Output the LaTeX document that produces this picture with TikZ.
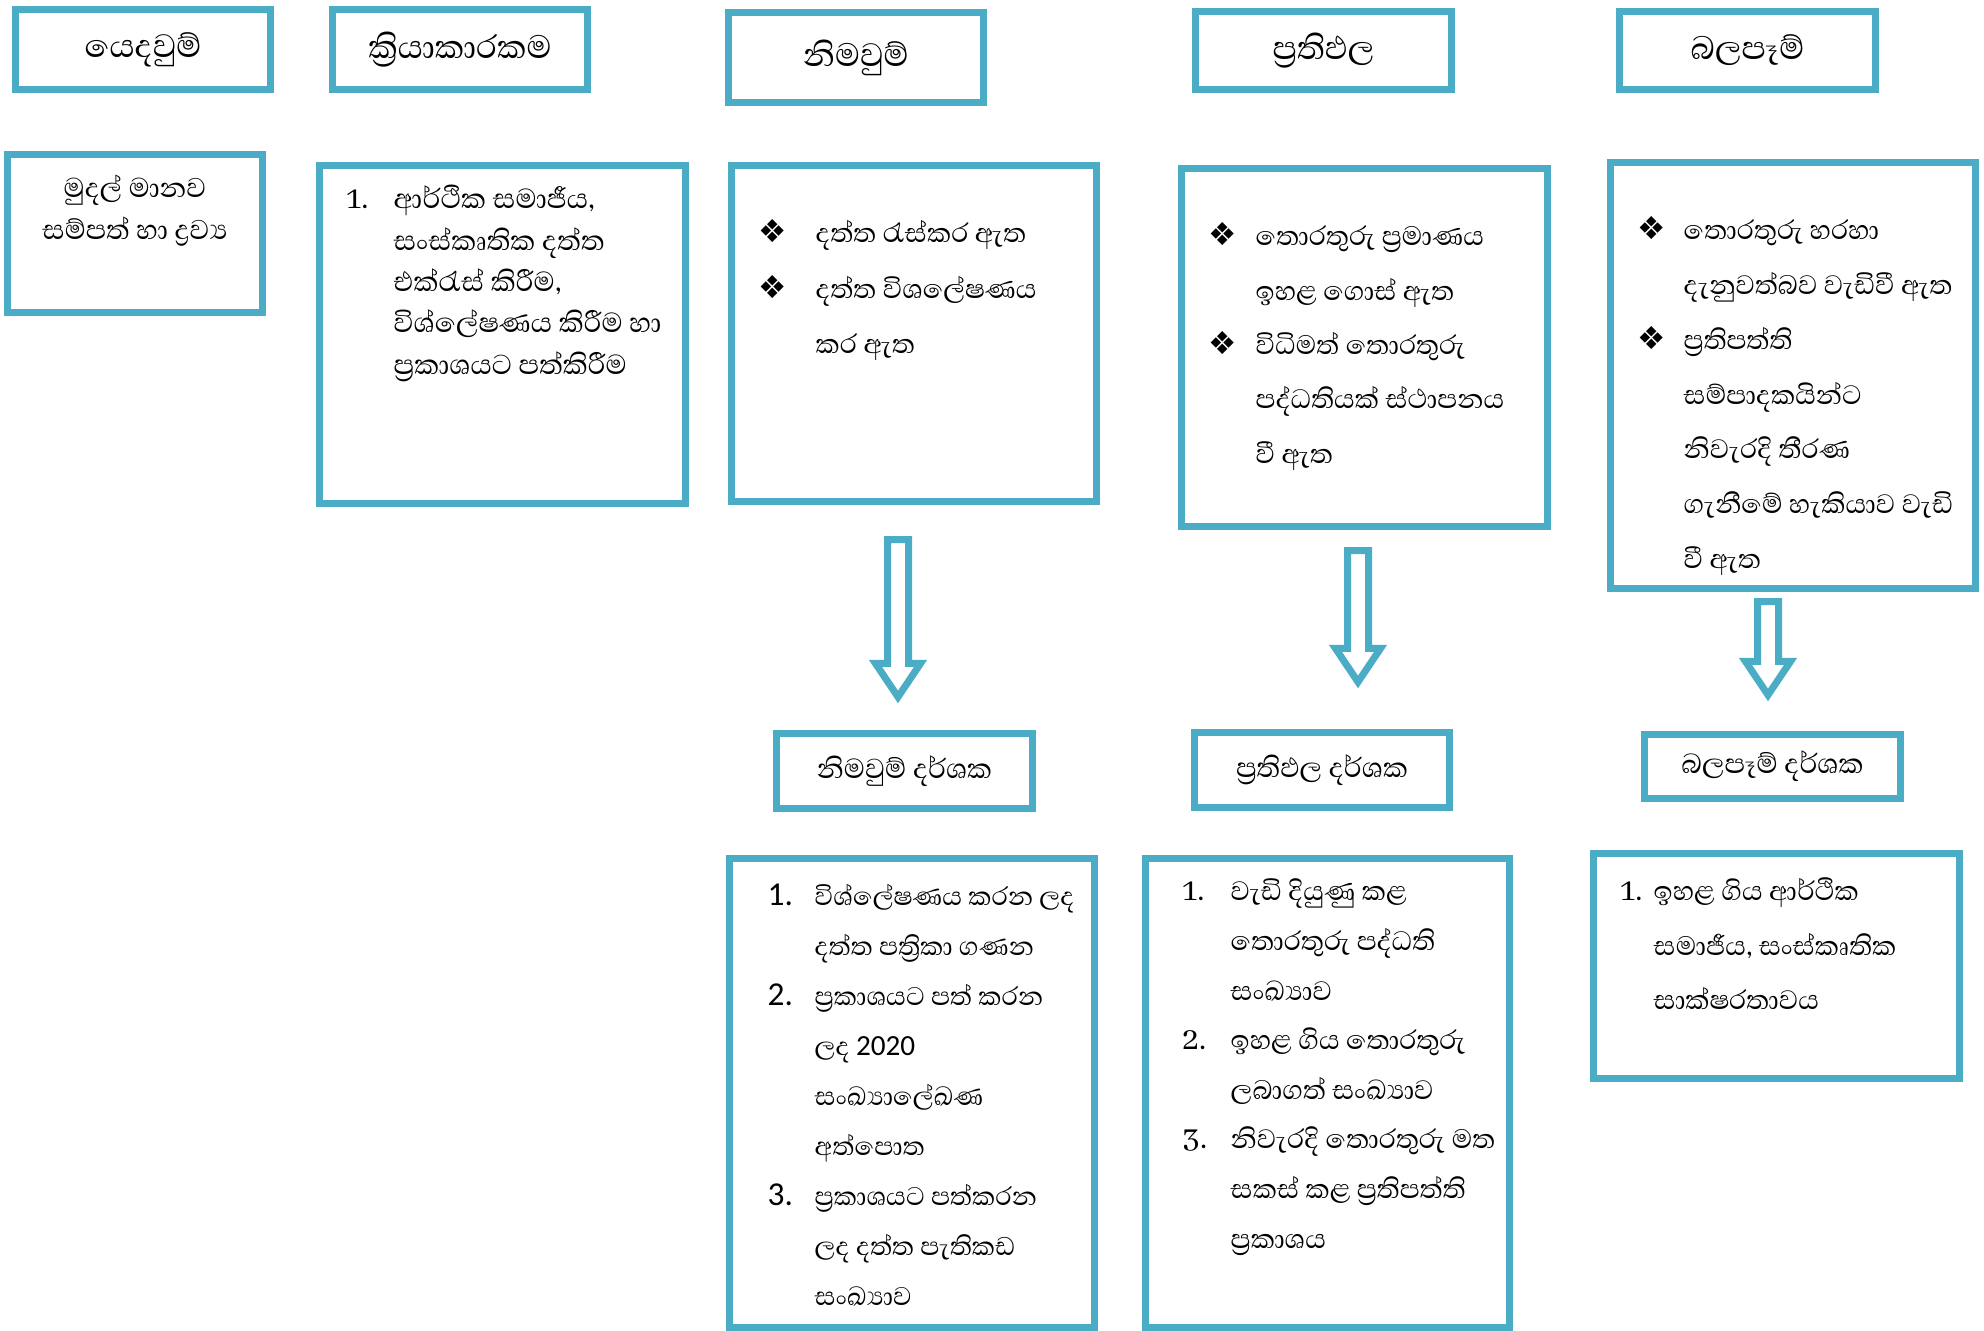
\documentclass[tikz,border=0pt]{standalone}
\usepackage{fontspec}
\setmainfont{Liberation Serif}
\newfontfamily\sinhala[Script=Sinhala]{Abhaya Libre}
\newfontfamily\calib{Carlito}
\newfontfamily\dvs{DejaVu Sans}
\usetikzlibrary{calc}
\definecolor{cblue}{RGB}{75,172,198}
\newcommand\bul[1]{\makebox[#1][l]{\dvs\fontsize{9}{9}\selectfont ❖}}
\newcommand\itemno[2]{\makebox[#1][l]{\fontsize{10.2}{10}\selectfont #2}}
\lineskiplimit=-30pt

\begin{document}
\begin{tikzpicture}[x=0.01cm,y=-0.01cm,
	hbox/.style={draw=cblue, line width=0.07cm, inner sep=0pt, minimum width=2.55cm, font=\sinhala\fontsize{11.8}{14}\selectfont},
	lbox/.style={draw=cblue, line width=0.07cm, inner sep=0pt},
	ltext/.style={anchor=base west, inner sep=0pt, font=\sinhala\fontsize{9.7}{#1}\selectfont},
	harrow/.style={draw=cblue, line width=0.07cm, fill=white, line join=miter}]
	\useasboundingbox (0,0) rectangle (1984,1331);
	% headers
	\node[hbox, minimum height=0.80cm] (in) at (143,49.5) {යෙදවුම්};
	\node[hbox, minimum height=0.80cm] (act) at (460,49.5) {ක්^^^^200dරියාකාරකම};
	\node[hbox, minimum height=0.90cm] (out) at (856,57.5) {නිමවුම්};
	\node[hbox, minimum height=0.78cm] (outc) at (1323.5,50.5) {ප්^^^^200dරතිඵල};
	\node[hbox, minimum height=0.78cm] (imp) at (1747.5,50.5) {බලපෑම්};
	% boxes
	\node[lbox, minimum width=2.55cm, minimum height=1.58cm] (inbox) at (135,233.5) {};
	\node[lbox, minimum width=3.66cm, minimum height=3.38cm] (actbox) at (502.5,334.5) {};
	\node[lbox, minimum width=3.65cm, minimum height=3.36cm] (outbox) at (914,333.5) {};
	\node[lbox, minimum width=3.66cm, minimum height=3.58cm] (outcbox) at (1364.5,347.5) {};
	\node[lbox, minimum width=3.65cm, minimum height=4.26cm] (impbox) at (1793,375.5) {};
	\node[align=center, inner sep=0pt, font=\sinhala\fontsize{9.9}{12}\selectfont] (intxt) at (135,211) {මුදල් මානව\\සම්පත් හා ද්^^^^200dරව්^^^^200dය};
	\node[ltext=11.75pt, font=\sinhala\fontsize{10}{11.75}\selectfont] (acttxt) at (346,209) {\parbox[t]{5cm}{\itemno{0.47cm}{1.}ආර්ථික සමාජීය,\\\hspace*{0.47cm}සංස්කෘතික දත්ත\\\hspace*{0.47cm}එක්රැස් කිරීම,\\\hspace*{0.47cm}විශ්ලේෂණය කිරීම හා\\\hspace*{0.47cm}ප්^^^^200dරකාශයට පත්කිරීම}};
	\node[ltext=15.65pt] (outtxt) at (758,243) {\parbox[t]{5cm}{\bul{0.57cm}දත්ත රැස්කර ඇත\\\bul{0.57cm}දත්ත විශලේෂණය\\\hspace*{0.57cm}කර ඇත}};
	\node[ltext=15.43pt] (outctxt) at (1208,246) {\parbox[t]{5cm}{\bul{0.47cm}තොරතුරු ප්^^^^200dරමාණය\\\hspace*{0.47cm}ඉහළ ගොස් ඇත\\\bul{0.47cm}විධිමත් තොරතුරු\\\hspace*{0.47cm}පද්ධතියක් ස්ථාපනය\\\hspace*{0.47cm}වී ඇත}};
	\node[ltext=15.55pt] (imptxt) at (1637,240) {\parbox[t]{5cm}{\bul{0.46cm}තොරතුරු හරහා\\\hspace*{0.46cm}දැනුවත්බව වැඩිවී ඇත\\\bul{0.46cm}ප්^^^^200dරතිපත්ති\\\hspace*{0.46cm}සම්පාදකයින්ට\\\hspace*{0.46cm}නිවැරදි තීරණ\\\hspace*{0.46cm}ගැනීමේ හැකියාව වැඩි\\\hspace*{0.46cm}වී ඇත}};
	% indicators
	\node[hbox, minimum height=0.75cm, font=\sinhala\fontsize{10}{12}\selectfont] (outind) at (904.5,771) {නිමවුම් දර්ශක};
	\node[hbox, minimum height=0.75cm, font=\sinhala\fontsize{10}{12}\selectfont] (outcind) at (1322,770) {ප්^^^^200dරතිඵල දර්ශක};
	\node[hbox, minimum height=0.64cm, font=\sinhala\fontsize{10}{12}\selectfont] (impind) at (1772.5,766.5) {බලපෑම් දර්ශක};
	\node[lbox, minimum width=3.65cm, minimum height=4.69cm] (outlist) at (912,1093) {};
	\node[lbox, minimum width=3.64cm, minimum height=4.69cm] (outclist) at (1327.5,1093) {};
	\node[lbox, minimum width=3.66cm, minimum height=2.25cm] (implist) at (1776.5,966) {};
	\node[ltext=14.2pt, font=\sinhala\fontsize{9.3}{14.2}\selectfont] (outlisttxt) at (767,906) {\parbox[t]{5cm}{\itemno{0.47cm}{\calib\fontsize{9.5}{9.5}\selectfont 1.}විශ්ලේෂණය කරන ලද\\\hspace*{0.47cm}දත්ත පත්^^^^200dරිකා ගණන\\\itemno{0.47cm}{\calib\fontsize{9.5}{9.5}\selectfont 2.}ප්^^^^200dරකාශයට පත් කරන\\\hspace*{0.47cm}ලද {\calib\fontsize{8.3}{9}\selectfont 2020}\\\hspace*{0.47cm}සංඛ්^^^^200dයාලේඛණ\\\hspace*{0.47cm}අත්පොත\\\itemno{0.47cm}{\calib\fontsize{9.5}{9.5}\selectfont 3.}ප්^^^^200dරකාශයට පත්කරන\\\hspace*{0.47cm}ලද දත්ත පැතිකඩ\\\hspace*{0.47cm}සංඛ්^^^^200dයාව}};
	\node[ltext=14.1pt] (outclisttxt) at (1182,901) {\parbox[t]{5cm}{\itemno{0.48cm}{1.}වැඩි දියුණු කළ\\\hspace*{0.48cm}තොරතුරු පද්ධති\\\hspace*{0.48cm}සංඛ්^^^^200dයාව\\\itemno{0.48cm}{2.}ඉහළ ගිය තොරතුරු\\\hspace*{0.48cm}ලබාගත් සංඛ්^^^^200dයාව\\\itemno{0.48cm}{3.}නිවැරදි තොරතුරු මත\\\hspace*{0.48cm}සකස් කළ ප්^^^^200dරතිපත්ති\\\hspace*{0.48cm}ප්^^^^200dරකාශය}};
	\node[ltext=15.4pt] (implisttxt) at (1620,901) {\parbox[t]{5cm}{\itemno{0.33cm}{1.}ඉහළ ගිය ආර්ථික\\\hspace*{0.33cm}සමාජීය, සංස්කෘතික\\\hspace*{0.33cm}සාක්ෂරතාවය}};
	% arrows
	\coordinate (a1t) at ([shift={(-16,34.5)}]outbox.south);
	\coordinate (a1h) at ([shift={(-6.5,-33)}]outind.north);
	\coordinate (a2t) at ([shift={(-6.5,20.5)}]outcbox.south);
	\coordinate (a2h) at ([shift={(36,-47)}]outcind.north);
	\coordinate (a3t) at ([shift={(-25,9.5)}]impbox.south);
	\coordinate (a3h) at ([shift={(-4.5,-36)}]impind.north);
	\foreach \t/\h in {a1t/a1h,a2t/a2h,a3t/a3h}
	\draw[harrow] ($(\t)+(-10.5,0)$) -- ($(\h)+(-10.5,-33.5)$) -- ($(\h)+(-22.5,-33.5)$) -- (\h) -- ($(\h)+(22.5,-33.5)$) -- ($(\h)+(10.5,-33.5)$) -- ($(\t)+(10.5,0)$) -- cycle;
\end{tikzpicture}
\end{document}
